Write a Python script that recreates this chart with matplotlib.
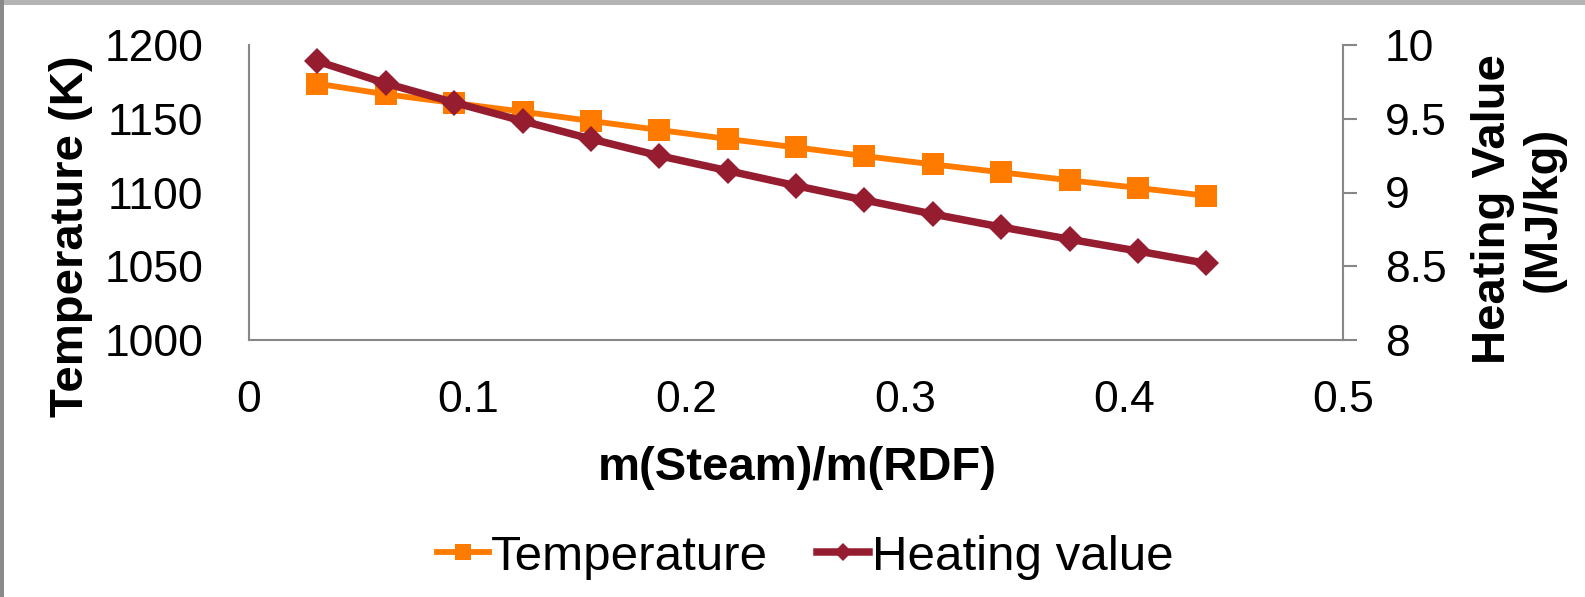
import matplotlib
matplotlib.use("Agg")
import matplotlib.pyplot as plt
from matplotlib.patches import Rectangle

plt.rcParams['font.family'] = ['Liberation Sans', 'DejaVu Sans']

# Steam-to-RDF mass ratio
ratio = [0.03125, 0.0625, 0.09375, 0.125, 0.15625, 0.1875, 0.21875,
         0.25, 0.28125, 0.3125, 0.34375, 0.375, 0.40625, 0.4375]
# Gasification temperature (K)
temperature = [1173.8, 1166.6, 1160.7, 1154.8, 1148.5, 1142.4, 1136.3,
               1130.6, 1124.7, 1119.1, 1113.7, 1108.3, 1103.1, 1097.8]
# Syngas heating value (MJ/kg)
heating_value = [9.89, 9.74, 9.61, 9.485, 9.363, 9.249, 9.148,
                 9.046, 8.949, 8.854, 8.766, 8.683, 8.603, 8.52]

x_ticks = [0, 0.1, 0.2, 0.3, 0.4, 0.5]
x_ticklabels = ['0', '0.1', '0.2', '0.3', '0.4', '0.5']
t_ticks = [1000, 1050, 1100, 1150, 1200]
hv_ticks = [8, 8.5, 9, 9.5, 10]
hv_ticklabels = ['8', '8.5', '9', '9.5', '10']

ORANGE = '#FF7B00'
CRIMSON = '#961C30'
GRAY = '#878787'

W, H = 1585, 597
fig = plt.figure(figsize=(W / 100, H / 100), dpi=100)
fig.patch.set_facecolor('white')

# thin frame strips along the top and left edges
fig.patches.append(Rectangle((0, 1 - 4.5 / H), 1, 4.5 / H, transform=fig.transFigure,
                             facecolor='#b4b4b4', edgecolor='none', zorder=0))
fig.patches.append(Rectangle((0, 0), 3.5 / W, 1, transform=fig.transFigure,
                             facecolor='#8a8a8a', edgecolor='none', zorder=0))

left, right, top, bottom = 249, 1343, 45, 340
ax = fig.add_axes([left / W, 1 - bottom / H, (right - left) / W, (bottom - top) / H])
ax2 = ax.twinx()

l1, = ax.plot(ratio, temperature, color=ORANGE, lw=4.2, marker='s', ms=16,
              mew=0, label='Temperature', solid_joinstyle='miter')
l2, = ax2.plot(ratio, heating_value, color=CRIMSON, lw=5.4, marker='D', ms=13,
               mew=0, label='Heating value', solid_joinstyle='miter')

ax.set_xlim(0, 0.5)
ax.set_ylim(1000, 1200)
ax2.set_ylim(8, 10)
ax.set_xticks(x_ticks)
ax.set_xticklabels(x_ticklabels)
ax.set_yticks(t_ticks)
ax2.set_yticks(hv_ticks)
ax2.set_yticklabels(hv_ticklabels)

for a in (ax, ax2):
    a.set_facecolor('none')
    for s in a.spines.values():
        s.set_color(GRAY)
        s.set_linewidth(1.5)
    a.spines['top'].set_visible(False)

ax.spines['right'].set_visible(False)
ax2.spines['left'].set_visible(False)
ax2.spines['bottom'].set_visible(False)

ax.tick_params(axis='x', length=0, pad=29, labelsize=32, colors='black')
ax.tick_params(axis='y', length=0, pad=33, labelsize=32, colors='black')
ax2.tick_params(axis='y', length=10, width=1.5, color=GRAY, direction='out',
                pad=20, labelsize=32, labelcolor='black')

fig.text(0.045, 1 - 236 / H, 'Temperature (K)', rotation=90, ha='center', va='center',
         fontsize=34, fontweight='bold')
fig.text(1518 / W, 1 - 209 / H, 'Heating Value\n(MJ/kg)', rotation=90, ha='center',
         va='center', multialignment='center', fontsize=34, fontweight='bold',
         linespacing=1.2)
fig.text(797 / W, 1 - 468 / H, 'm(Steam)/m(RDF)', ha='center', va='center',
         fontsize=34, fontweight='bold')

fig.legend(handles=[l1, l2], loc='center', bbox_to_anchor=(805 / W, 1 - 557 / H),
           ncol=2, frameon=False, fontsize=35.5, handlelength=1.05, handletextpad=0.05,
           columnspacing=1.0, markerscale=0.7, borderpad=0, borderaxespad=0)

fig.savefig('out.png', dpi=100, facecolor='white')
